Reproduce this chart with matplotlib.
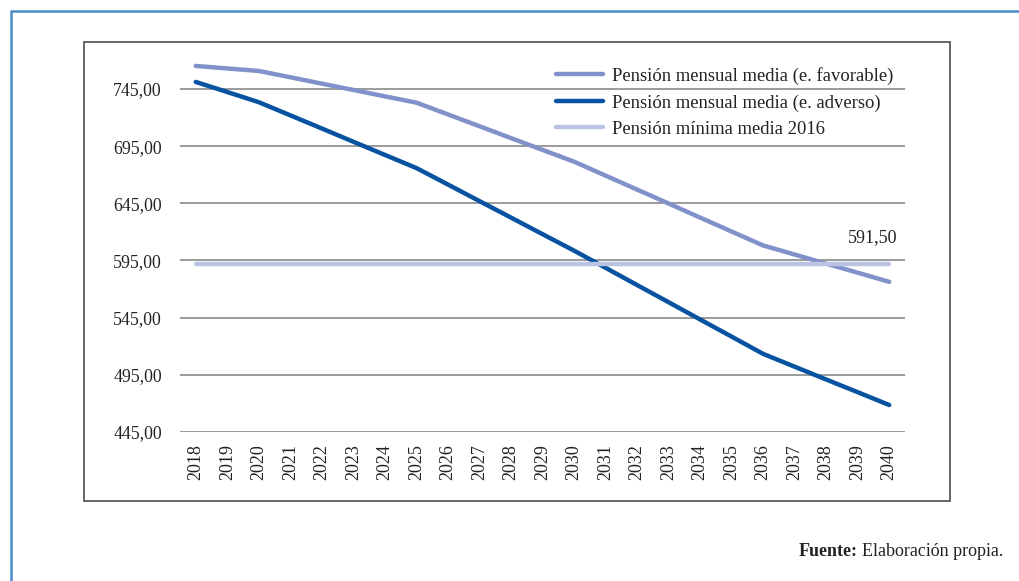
import matplotlib
matplotlib.use("Agg")
import matplotlib.pyplot as plt
from matplotlib.lines import Line2D
from matplotlib.patches import Rectangle

years = list(range(2018, 2041))
favorable = [765.1, 762.9, 760.7, 755.2, 749.6, 744.1, 738.5, 733.0, 722.7, 712.4,
             702.0, 691.7, 681.4, 669.2, 657.0, 644.8, 632.5, 620.3, 608.1, 600.2,
             592.2, 584.3, 576.3]
adverso = [751.1, 742.3, 733.4, 721.9, 710.4, 698.8, 687.3, 675.8, 661.4, 646.9,
           632.5, 618.0, 603.6, 588.6, 573.5, 558.5, 543.4, 528.4, 513.3, 502.1,
           490.9, 479.8, 468.6]
minima = [591.5] * len(years)
yticks = [445, 495, 545, 595, 645, 695, 745]
labels = ["Pensión mensual media (e. favorable)",
          "Pensión mensual media (e. adverso)",
          "Pensión mínima media 2016"]
colors = ["#8291CA", "#0753A1", "#B9C4E5"]

plt.rcParams["font.family"] = ["Liberation Serif", "DejaVu Serif"]
W, H = 1019, 581
fig = plt.figure(figsize=(W / 100, H / 100), dpi=100)

def fx(px):
    return px / W

def fy(py):
    return 1 - py / H

# outer frame (top and left edges)
fig.add_artist(Line2D([fx(11), fx(11), 1.0], [0.0, fy(11), fy(11)],
                      color="#4A8BCB", lw=1.8, transform=fig.transFigure))
# chart box
fig.add_artist(Rectangle((fx(84), fy(501)), fx(950) - fx(84), fy(42) - fy(501),
                         fill=False, edgecolor="#5A5A5A", lw=1.3,
                         transform=fig.transFigure))

ax_bottom = fy(432)
ax_top = fy(50)
ax = fig.add_axes([fx(180), ax_bottom, fx(905) - fx(180), ax_top - ax_bottom])
ymin = 445
ymax = 745 + (89 - 50) / (57.3 / 50)
ax.set_ylim(ymin, ymax)
ax.set_xlim(years[0] - 0.5, years[-1] + 0.5)

for y in yticks:
    ax.axhline(y, color="#8A8A8A", lw=1.2, zorder=1)

series = [favorable, adverso, minima]
for vals, lab, col in zip(series, labels, colors):
    ax.plot(years, vals, color=col, lw=3.2, label=lab, solid_capstyle="round",
            solid_joinstyle="round", zorder=3)

ax.annotate(f"{minima[-1]:.2f}".replace(".", ","), xy=(years[-1], minima[-1]),
            xytext=(6, 13), textcoords="offset points", ha="right", va="bottom",
            fontsize=13, color="#222222")

for s in ax.spines.values():
    s.set_visible(False)
ax.set_yticks(yticks)
ax.set_yticklabels([f"{v:.2f}".replace(".", ",") for v in yticks])
ax.set_xticks(years)
ax.set_xticklabels([str(y) for y in years], rotation=90)
ax.tick_params(axis="y", length=0, pad=13, labelsize=12.8, colors="#222222")
ax.tick_params(axis="x", length=0, pad=9, labelsize=13, colors="#222222")
ax.patch.set_alpha(0)

leg = fig.legend(loc="upper left", bbox_to_anchor=(fx(556), fy(67)),
                 frameon=False, fontsize=13.4, handlelength=2.53,
                 handletextpad=0.48, labelspacing=0.5, borderpad=0,
                 borderaxespad=0)
for t in leg.get_texts():
    t.set_color("#222222")

# source note
fig.canvas.draw()
renderer = fig.canvas.get_renderer()
t2 = fig.text(fx(1003), fy(551), "Elaboración propia.", ha="right", va="center",
              fontsize=13, color="#222222")
bb = t2.get_window_extent(renderer=renderer)
x_left = bb.x0 / W
fig.text(x_left - fx(4), fy(551), "Fuente:", ha="right", va="center",
         fontsize=13, fontweight="bold", color="#222222")

fig.savefig("out.png", dpi=100)
